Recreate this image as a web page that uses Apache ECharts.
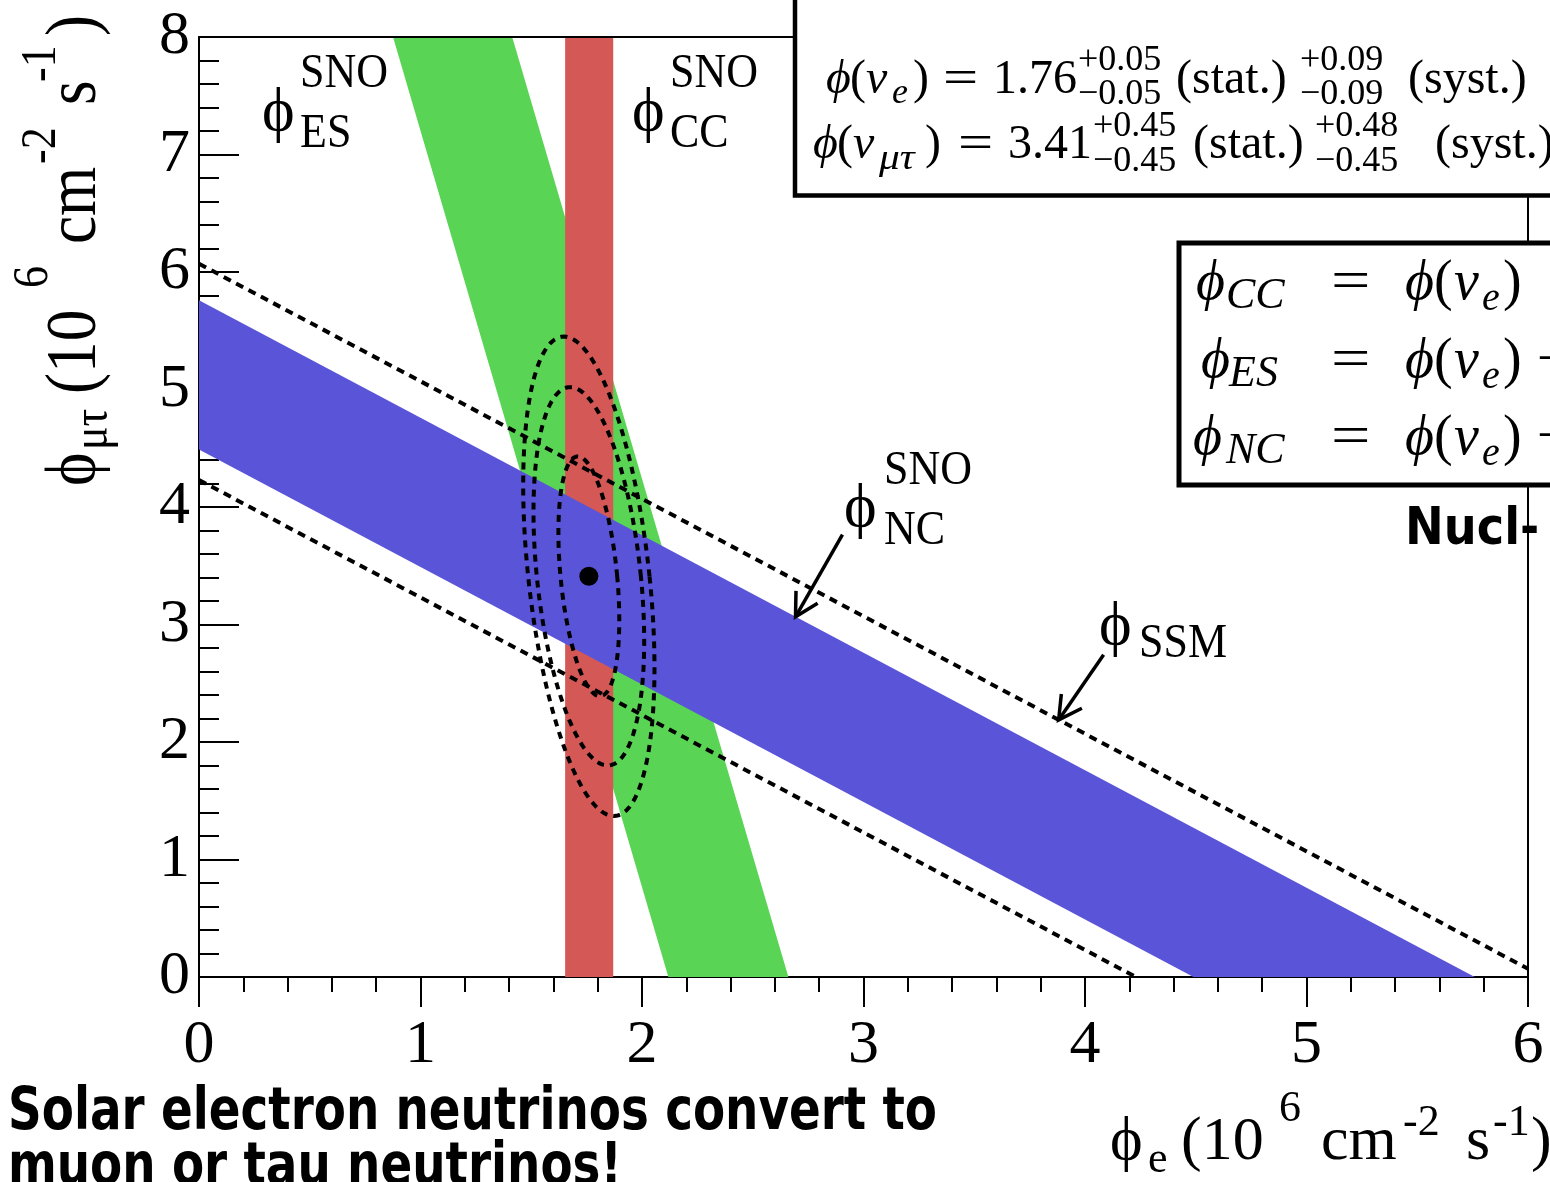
<!DOCTYPE html>
<html><head><meta charset="utf-8">
<script src="https://cdn.jsdelivr.net/npm/echarts@6/dist/echarts.min.js"></script>
<style>html,body{margin:0;padding:0;background:#fff}#c{width:1550px;height:1182px}</style>
</head><body><div id="c"></div>
<script>
// ---------- data ----------
const xTickLabels = ['0','1','2','3','4','5','6'];
const yTickLabels = ['0','1','2','3','4','5','6','7','8'];
const ccBand = [1.653, 1.870];          // phi_e range of SNO CC band
const esTopX = [0.876, 1.414];          // ES band phi_e edges at phi_mutau = 8
const esBottomX = [2.119, 2.661];       // ES band phi_e edges at phi_mutau = 0
const ncBand = [4.49, 5.76];            // NC band: phi_e + phi_mutau range
const ssmUpper = [[0, 6.07], [6.0, 0.07]];
const ssmLower = [[0, 4.23], [4.23, 0]];
const bestFit = [1.76, 3.41];
const contourHalfWidth  = [0.128, 0.235, 0.274];
const contourHalfHeight = [1.02, 1.61, 2.04];
const contourShear      = [-0.05, -0.085, -0.113];
const arrowNC  = [[2.905, 3.764], [2.693, 3.065]];
const arrowSSM = [[4.084, 2.742], [3.881, 2.188]];

const GREEN = '#5AD455', RED = '#D35856', BLUE = '#5A54D8';
const SERIF = '"Liberation Serif","DejaVu Serif",serif';
const SANS = '"DejaVu Sans",sans-serif';

// ---------- text helpers ----------
const mctx = document.createElement('canvas').getContext('2d');
function fontOf(p){ return (p.italic?'italic ':'') + (p.bold?'bold ':'') + p.size + 'px ' + (p.family||SERIF); }
function tw(str, font){ mctx.font = font; return mctx.measureText(str).width; }
// text anchored at its alphabetic baseline (x, base); optional scaling about that point
function T(x, base, str, size, o){
  o = o || {};
  return {type:'text', x:x, y:base, z:(o.z==null?62:o.z),
    scaleX:(o.sx||1), scaleY:(o.sy||1),
    style:{x:0, y:-0.33*size, text:str,
      font: fontOf({italic:o.italic,bold:o.bold,size:size,family:o.family}),
      fill:'#000', align:'left', verticalAlign:'middle'}};
}
function stack(x, supBase, subBase, sup, sub, size){
  return [T(x, supBase, sup, size), T(x, subBase, sub, size)];
}

// ---------- chart ----------
const chart = echarts.init(document.getElementById('c'), null, {renderer:'canvas'});

function polySeries(points, color){
  return {type:'custom', coordinateSystem:'cartesian2d', z:2, silent:true,
    data: points,
    renderItem: function(params, api){
      if (params.dataIndex !== 0) return null;
      const pts = points.map(p => api.coord(p));
      return {type:'polygon', shape:{points:pts}, style:{fill:color, stroke:null}};
    }};
}
function arrowSeries(a){
  return {type:'custom', coordinateSystem:'cartesian2d', z:6, silent:true,
    data:[[a[0][0],a[0][1],a[1][0],a[1][1]]],
    renderItem: function(params, api){
      const p0 = api.coord([api.value(0), api.value(1)]);
      const p1 = api.coord([api.value(2), api.value(3)]);
      const ang = Math.atan2(p1[1]-p0[1], p1[0]-p0[0]);
      const L = 26, h = 0.5;
      const h1 = [p1[0]-L*Math.cos(ang-h), p1[1]-L*Math.sin(ang-h)];
      const h2 = [p1[0]-L*Math.cos(ang+h), p1[1]-L*Math.sin(ang+h)];
      return {type:'group', children:[
        {type:'line', shape:{x1:p0[0],y1:p0[1],x2:p1[0],y2:p1[1]}, style:{stroke:'#000', lineWidth:3.5}},
        {type:'polyline', shape:{points:[h1,p1,h2]}, style:{stroke:'#000', lineWidth:3.5, fill:null}}
      ]};
    }};
}

const ellipseData = contourHalfWidth.map((w,i)=>[bestFit[0], bestFit[1], w, contourShear[i], contourHalfHeight[i]]);
const dashed = {color:'#000', width:4, type:[8,6]};

const option = {
  animation:false,
  backgroundColor:'#fff',
  grid:{left:199, right:22, top:37, bottom:205, show:false},
  xAxis:[{
    type:'value', min:0, max:6, interval:1, z:0,
    axisLine:{onZero:false, lineStyle:{color:'#000', width:2}},
    axisTick:{inside:false, length:30, lineStyle:{color:'#000', width:2}},
    minorTick:{show:true, splitNumber:5, length:15, lineStyle:{color:'#000', width:2}},
    splitLine:{show:false}, minorSplitLine:{show:false},
    axisLabel:{fontSize:62, fontFamily:SERIF, color:'#000', margin:38,
      formatter:(v)=>xTickLabels[Math.round(v)]}
  },{
    type:'value', min:0, max:6, position:'top', z:10,
    axisLine:{onZero:false, lineStyle:{color:'#000', width:2}},
    axisTick:{show:false}, axisLabel:{show:false}, splitLine:{show:false}
  }],
  yAxis:[{
    type:'value', min:0, max:8, interval:1, z:0,
    axisLine:{onZero:false, lineStyle:{color:'#000', width:2}},
    axisTick:{inside:true, length:40, lineStyle:{color:'#000', width:2}},
    minorTick:{show:true, splitNumber:5, length:20, lineStyle:{color:'#000', width:2}},
    splitLine:{show:false}, minorSplitLine:{show:false},
    axisLabel:{fontSize:62, fontFamily:SERIF, color:'#000', margin:9, padding:[28,0,0,0],
      formatter:(v)=>yTickLabels[Math.round(v)]}
  },{
    type:'value', min:0, max:8, position:'right', z:10,
    axisLine:{onZero:false, lineStyle:{color:'#000', width:2}},
    axisTick:{show:false}, axisLabel:{show:false}, splitLine:{show:false}
  }],
  series:[
    polySeries([[esTopX[0],8],[esTopX[1],8],[esBottomX[1],0],[esBottomX[0],0]], GREEN),
    polySeries([[ccBand[0],0],[ccBand[1],0],[ccBand[1],8],[ccBand[0],8]], RED),
    polySeries([[0,ncBand[0]],[0,ncBand[1]],[ncBand[1],0],[ncBand[0],0]], BLUE),
    {type:'line', data:ssmUpper, symbol:'none', z:4, lineStyle:dashed, silent:true},
    {type:'line', data:ssmLower, symbol:'none', z:4, lineStyle:dashed, silent:true},
    {type:'custom', coordinateSystem:'cartesian2d', z:5, silent:true, data: ellipseData,
      renderItem: function(params, api){
        const cx = api.value(0), cy = api.value(1), hx = api.value(2), vx = api.value(3), vy = api.value(4);
        const pts = [];
        const N = 160;
        for (let k=0;k<N;k++){
          const t = 2*Math.PI*k/N;
          pts.push(api.coord([cx + hx*Math.cos(t) + vx*Math.sin(t), cy + vy*Math.sin(t)]));
        }
        return {type:'polygon', shape:{points:pts}, style:{fill:null, stroke:'#000', lineWidth:4, lineDash:[7,6]}};
      }},
    {type:'scatter', data:[bestFit], symbol:'circle', symbolSize:19, z:7, itemStyle:{color:'#000', opacity:1}, silent:true},
    arrowSeries(arrowNC),
    arrowSeries(arrowSSM)
  ]
};

// ---------- annotations ----------
const G = [];
function bandLabel(xPhi, xSub, baseSNO, basePhi, baseSub, sub){
  G.push(T(xSub, baseSNO, 'SNO', 44, {z:8, sy:1.1}));
  G.push(T(xPhi, basePhi, 'ϕ', 62, {z:8}));
  G.push(T(xSub, baseSub, sub, 44, {z:8, sy:1.1}));
}
bandLabel(262, 300, 90, 134, 150, 'ES');
bandLabel(632, 670, 90, 134, 150, 'CC');
bandLabel(844, 884, 487, 530, 547, 'NC');
G.push(T(1099, 648, 'ϕ', 62, {z:8}));
G.push(T(1139, 660, 'SSM', 44, {z:8, sy:1.1}));

// Nucl- (under the right frame line)
(function(){
  const f = fontOf({bold:true, size:52, family:SANS});
  const w = tw('Nucl', f);
  G.push(T(1405, 548, 'Nucl-', 52, {bold:true, family:SANS, z:1, sx:115/w}));
})();

// box 1
G.push({type:'rect', z:60, shape:{x:795, y:-10, width:820, height:205.5}, style:{fill:'#fff', stroke:'#000', lineWidth:4.5}});
const M = 48, S = 36;
[
  T(826,96,'ϕ',M,{italic:true}), T(850,96,'(',M), T(866,96,'ν',M,{italic:true}), T(892,105,'e',S,{italic:true}),
  T(913,96,')',M), T(943,96,'=',M,{sx:1.3}), T(993,96,'1.76',M)
].forEach(e=>G.push(e));
stack(1078,72,106,'+0.05','−0.05',S).forEach(e=>G.push(e));
G.push(T(1176,96,'(stat.)',M));
stack(1300,72,106,'+0.09','−0.09',S).forEach(e=>G.push(e));
G.push(T(1408,96,'(syst.)',M));
[
  T(813,161,'ϕ',M,{italic:true}), T(837,161,'(',M), T(853,161,'ν',M,{italic:true}), T(879,171,'μτ',S,{italic:true,sx:1.15}),
  T(925,161,')',M), T(958,161,'=',M,{sx:1.3}), T(1008,161,'3.41',M)
].forEach(e=>G.push(e));
stack(1093,138,173,'+0.45','−0.45',S).forEach(e=>G.push(e));
G.push(T(1193,161,'(stat.)',M));
stack(1315,138,173,'+0.48','−0.45',S).forEach(e=>G.push(e));
G.push(T(1435,161,'(syst.)',M));

// box 2
G.push({type:'rect', z:60, shape:{x:1179, y:243, width:500, height:242}, style:{fill:'#fff', stroke:'#000', lineWidth:5}});
const B = 56, BS = 40;
[[303,'CC',1196,1226,false],[381,'ES',1201,1229,true],[458,'NC',1193,1226,true]].forEach(r=>{
  const b = r[0];
  G.push(T(r[2], b, 'ϕ', B, {italic:true}));
  G.push(T(r[3], b+8, r[1], 44, {italic:true}));
  G.push(T(1331, b, '=', B, {sx:1.25}));
  G.push(T(1405, b, 'ϕ', B, {italic:true}));
  G.push(T(1434, b, '(', B));
  G.push(T(1454, b, 'ν', B, {italic:true}));
  G.push(T(1482, b+10, 'e', BS, {italic:true}));
  G.push(T(1503, b, ')', B));
  if (r[4]) G.push(T(1537, b, '+', B));
});

// x-axis title
const XT = 62, XTS = 44;
[
  T(1110,1163,'ϕ',XT), T(1148,1175,'e',XTS), T(1181,1163,'(10',XT), T(1279,1124,'6',XTS),
  T(1321,1163,'cm',XT), T(1403,1138,'-2',XTS), T(1466,1163,'s',XT), T(1493,1138,'-1',XTS), T(1531,1163,')',XT)
].forEach(e=>{ e.z = 8; G.push(e); });

// y-axis title (rotated, reading upward)
const YT = 72, YTS = 50, ysx = 0.88;
G.push({type:'group', x:100, y:486, rotation:Math.PI/2, z:8, children:[
  T(0,0,'ϕ',YT,{sx:ysx,z:8}), T(36,10,'μτ',YTS,{sx:ysx,z:8}), T(92,0,'(10',YT,{sx:ysx,z:8}),
  T(198,-50,'6',YTS,{sx:ysx,z:8}), T(242,0,'cm',YT,{sx:ysx,z:8}), T(322,-42,'-2',YTS,{sx:ysx,z:8}),
  T(381,0,'s',YT,{sx:ysx,z:8}), T(404,-42,'-1',YTS,{sx:ysx,z:8}), T(450,0,')',YT,{sx:ysx,z:8})
]});

// bottom bold text
(function(){
  const f = fontOf({bold:true, size:59, family:SANS});
  const w = tw('Solar electron neutrinos convert to', f);
  const sx = 929/w;
  G.push(T(8, 1133, 'Solar electron neutrinos convert to', 59, {bold:true, family:SANS, z:8, sx:sx}));
  G.push(T(8, 1188, 'muon or tau neutrinos!', 59, {bold:true, family:SANS, z:8, sx:sx}));
})();

option.graphic = G;
chart.setOption(option);
</script>
</body></html>
